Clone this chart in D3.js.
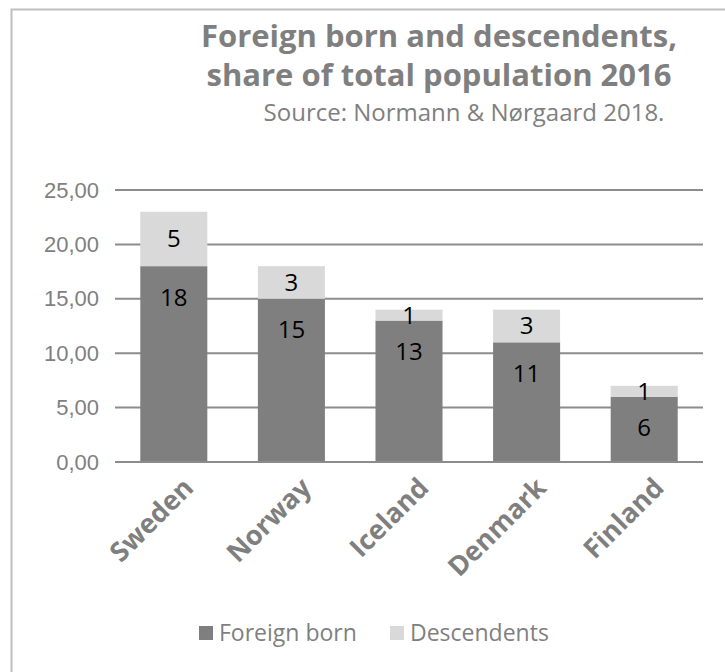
<!DOCTYPE html>
<meta charset="utf-8">
<style>
body { margin: 0; background: #fff; }
svg { font-family: "Open Sans", sans-serif; }
.axis text { fill: #7f7f7f; }
</style>
<svg width="725" height="672"></svg>
<script src="https://d3js.org/d3.v7.min.js"></script>
<script>
var countries = ["Sweden", "Norway", "Iceland", "Denmark", "Finland"];
var foreignBorn = [18, 15, 13, 11, 6];
var descendents = [5, 3, 1, 3, 1];
var seriesNames = ["Foreign born", "Descendents"];
var yTicks = [0, 5, 10, 15, 20, 25];

var svg = d3.select("svg");

// chart frame (only left/top visible in the crop)
svg.append("path")
    .attr("d", "M11.5,672 L11.5,9.5 L725,9.5")
    .attr("fill", "none")
    .attr("stroke", "#bfbfbf")
    .attr("stroke-width", 2);

var x = d3.scaleBand()
    .domain(countries)
    .range([115, 703])
    .paddingInner(0.43)
    .paddingOuter(0.215);

var y = d3.scaleLinear()
    .domain([0, 25])
    .range([462, 190]);

// gridlines
svg.append("g")
  .selectAll("line")
  .data(yTicks)
  .enter().append("line")
    .attr("x1", 115)
    .attr("x2", 703)
    .attr("y1", function(d) { return y(d); })
    .attr("y2", function(d) { return y(d); })
    .attr("stroke", "#8c8c8c")
    .attr("stroke-width", 2);

var yAxis = svg.append("g")
    .attr("class", "axis")
    .attr("transform", "translate(115,0)")
    .call(d3.axisLeft(y).tickValues(yTicks).tickSize(0).tickPadding(16)
      .tickFormat(function(d) { return d3.format(".2f")(d).replace(".", ","); }));
yAxis.select(".domain").remove();
yAxis.selectAll("text").attr("font-size", 22);

var stacked = countries.map(function(c, i) {
  return {c: c, f: foreignBorn[i], d: descendents[i]};
});

var bars = svg.append("g");
bars.selectAll(".fb")
  .data(stacked)
  .enter().append("rect")
    .attr("x", function(d) { return x(d.c); })
    .attr("width", x.bandwidth())
    .attr("y", function(d) { return y(d.f); })
    .attr("height", function(d) { return y(0) - y(d.f); })
    .attr("fill", "#7f7f7f");
bars.selectAll(".de")
  .data(stacked)
  .enter().append("rect")
    .attr("x", function(d) { return x(d.c); })
    .attr("width", x.bandwidth())
    .attr("y", function(d) { return y(d.f + d.d); })
    .attr("height", function(d) { return y(d.f) - y(d.f + d.d); })
    .attr("fill", "#d9d9d9");

// baseline
svg.append("line")
    .attr("x1", 115).attr("x2", 703)
    .attr("y1", y(0)).attr("y2", y(0))
    .attr("stroke", "#8c8c8c").attr("stroke-width", 2);

// data labels
var labels = svg.append("g").attr("font-size", 24).attr("fill", "#000").attr("text-anchor", "middle");
labels.selectAll(".lf")
  .data(stacked)
  .enter().append("text")
    .attr("x", function(d) { return x(d.c) + x.bandwidth() / 2; })
    .attr("y", function(d) { return y(d.f) + 31; })
    .attr("dy", "0.35em")
    .text(function(d) { return d.f; });
labels.selectAll(".ld")
  .data(stacked)
  .enter().append("text")
    .attr("x", function(d) { return x(d.c) + x.bandwidth() / 2; })
    .attr("y", function(d) { return (y(d.f) + y(d.f + d.d)) / 2; })
    .attr("dy", "0.35em")
    .text(function(d) { return d.d; });

// category labels
svg.append("g")
  .selectAll("text")
  .data(countries)
  .enter().append("text")
    .attr("transform", function(d) {
      return "translate(" + (x(d) + x.bandwidth() / 2 + 8) + ",476) rotate(-45)";
    })
    .attr("text-anchor", "end")
    .attr("dy", "0.7em")
    .attr("font-size", 27)
    .attr("font-weight", "bold")
    .attr("fill", "#7f7f7f")
    .text(function(d) { return d; });

// title
svg.append("text")
    .attr("x", 439).attr("y", 47)
    .attr("text-anchor", "middle")
    .attr("font-size", 31).attr("font-weight", "bold").attr("fill", "#7f7f7f")
    .text("Foreign born and descendents,");
svg.append("text")
    .attr("x", 439).attr("y", 86)
    .attr("text-anchor", "middle")
    .attr("font-size", 31).attr("font-weight", "bold").attr("fill", "#7f7f7f")
    .text("share of total population 2016");
svg.append("text")
    .attr("x", 464).attr("y", 121)
    .attr("text-anchor", "middle")
    .attr("font-size", 24).attr("fill", "#7f7f7f")
    .text("Source: Normann & Nørgaard 2018.");

// legend
var legend = svg.append("g");
var legendX = [199, 390];
var legendColors = ["#7f7f7f", "#d9d9d9"];
seriesNames.forEach(function(name, i) {
  legend.append("rect")
      .attr("x", legendX[i]).attr("y", 626)
      .attr("width", 14).attr("height", 14)
      .attr("fill", legendColors[i]);
  legend.append("text")
      .attr("x", legendX[i] + 20).attr("y", 633)
      .attr("dy", "0.35em")
      .attr("font-size", 23).attr("fill", "#7f7f7f")
      .text(name);
});
</script>
